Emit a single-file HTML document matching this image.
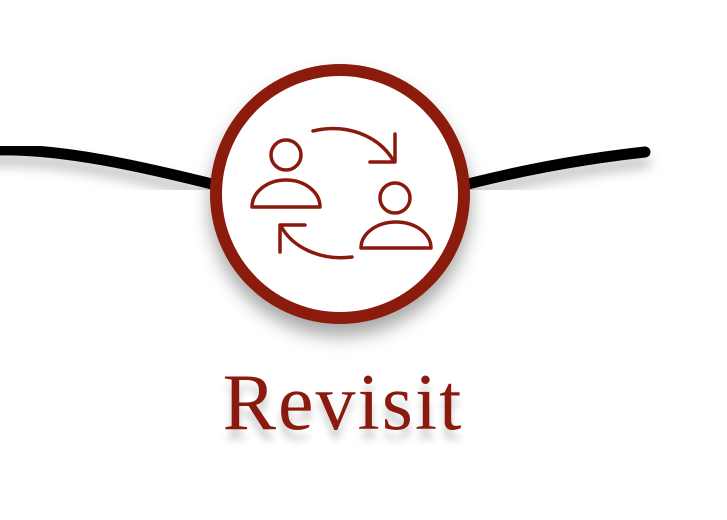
<!DOCTYPE html>
<html><head><style>
body{margin:0;width:727px;height:520px;background:#fff;overflow:hidden;position:relative}
.t{position:absolute;left:0;width:686px;text-align:center;top:358px;font-family:"Liberation Serif",serif;font-size:80px;letter-spacing:2px;color:#8b1a0e;text-shadow:0 10px 8px rgba(0,0,0,0.2)}
</style></head><body>
<svg width="727" height="520" style="position:absolute;left:0;top:0">
<defs>
<filter id="s" x="-30%" y="-30%" width="160%" height="170%"><feDropShadow dx="0" dy="12" stdDeviation="9" flood-color="#000" flood-opacity="0.35"/></filter>
<filter id="ls"><feDropShadow dx="0" dy="10" stdDeviation="6" flood-color="#000" flood-opacity="0.25"/></filter>
</defs>
<g filter="url(#ls)" fill="none" stroke="#000" stroke-width="11" stroke-linecap="round">
<path d="M-5 150 C60 148 140 166 220 186"/>
<path d="M460 186 C530 168 590 158 645 152"/>
</g>
<circle cx="340" cy="194" r="124" fill="#fff" stroke="#8b1a0e" stroke-width="12" filter="url(#s)"/>
<g fill="none" stroke="#8b1a0e" stroke-width="3.5" stroke-linecap="round" stroke-linejoin="round">
<circle cx="286" cy="155" r="15"/>
<path d="M252 207 A34 27 0 0 1 320 207 Z"/>
<circle cx="395" cy="198" r="15"/>
<path d="M361 248 A35 26 0 0 1 431 248 Z"/>
<path d="M313 131 C345 123 378 135 393 160"/>
<path d="M395 134 L395 162 L370 162"/>
<path d="M352 257 C320 261 292 247 281 226"/>
<path d="M305 225 L280 225 L280 252"/>
</g>
</svg>
<div class="t">Revisit</div>
</body></html>
